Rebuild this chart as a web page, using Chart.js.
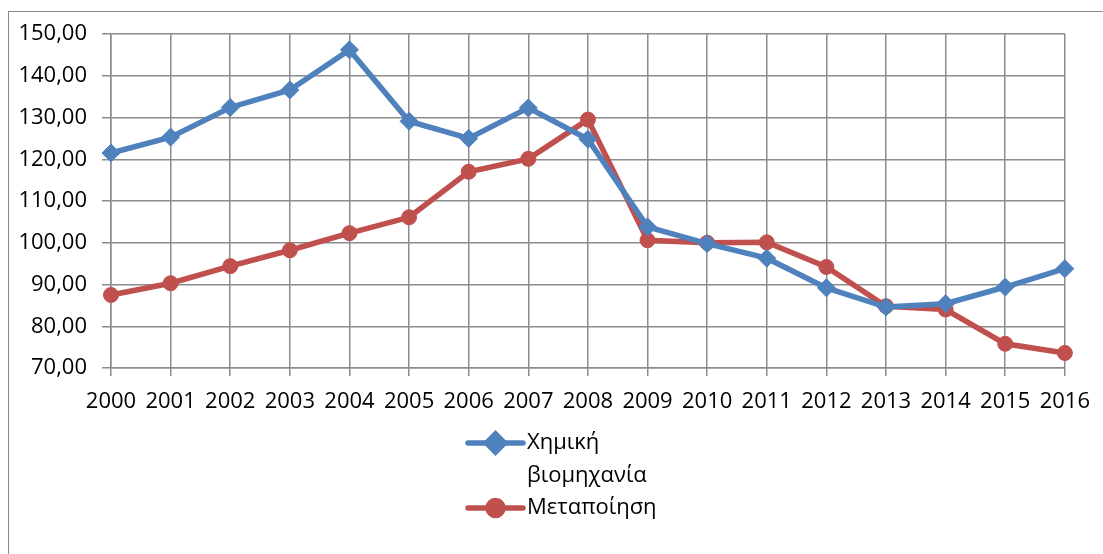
<!DOCTYPE html>
<html>
<head>
<meta charset="utf-8">
<script src="https://cdn.jsdelivr.net/npm/chart.js@4"></script>
<style>
	html, body { margin: 0; padding: 0; background: #fff; }
	#frame { position: absolute; left: 8px; top: 11px; width: 1200px; height: 600px; border: 1.5px solid #8a8a8a; }
	#wrap { position: absolute; left: 0; top: 0; width: 1103px; height: 554px; }
</style>
</head>
<body>
<div id="frame"></div>
<div id="wrap"><canvas id="grafik"></canvas></div>
<script>
var years = ['2000', '2001', '2002', '2003', '2004', '2005', '2006', '2007', '2008',
	'2009', '2010', '2011', '2012', '2013', '2014', '2015', '2016'];
var chimiki = [121.5, 125.3, 132.4, 136.6, 146.2, 129.1, 125.0, 132.3, 124.8,
	103.8, 99.8, 96.3, 89.2, 84.6, 85.4, 89.4, 93.8];
var metapoiisi = [87.5, 90.3, 94.4, 98.2, 102.3, 106.1, 117.0, 120.1, 129.5,
	100.6, 100.0, 100.1, 94.2, 84.8, 84.0, 75.8, 73.6];
var yTicks = { min: 70, max: 150, step: 10 };
var legendNames = [['Χημική', 'βιομηχανία'], ['Μεταποίηση']];

var FONT = '"Open Sans", sans-serif';
var BLUE = '#4f81bd';
var RED = '#c0504d';
var GRID = '#8c8c8c';

// legend drawn by hand, the wrapped label does not fit the built-in one
var handLegend = {
	id: 'handLegend',
	afterDraw: function (chart) {
		var ctx = chart.ctx;
		var x0 = 468, x1 = 523, tx = 527;
		var rows = [443, 508];
		ctx.save();
		chart.data.datasets.forEach(function (ds, i) {
			var y = rows[i];
			ctx.strokeStyle = ds.borderColor;
			ctx.lineWidth = 5.5;
			ctx.lineCap = 'round';
			ctx.beginPath();
			ctx.moveTo(x0, y);
			ctx.lineTo(x1, y);
			ctx.stroke();
			ctx.fillStyle = ds.borderColor;
			Chart.helpers.drawPoint(ctx, {
				pointStyle: ds.pointStyle,
				radius: ds.pointRadius,
				borderWidth: 1
			}, (x0 + x1) / 2, y);
			ctx.fillStyle = '#000';
			ctx.font = '22px ' + FONT;
			ctx.textBaseline = 'middle';
			ctx.textAlign = 'left';
			legendNames[i].forEach(function (line, j) {
				ctx.fillText(line, tx, y + j * 33);
			});
		});
		ctx.restore();
	}
};

var ctx = document.getElementById('grafik');

var lineGraph = new Chart(ctx, {
	type: 'line',
	data: {
		labels: years,
		datasets: [
			{
				label: legendNames[0].join(' '),
				data: chimiki,
				borderColor: BLUE,
				backgroundColor: BLUE,
				borderWidth: 5.5,
				pointStyle: 'rectRot',
				pointRadius: 9,
				pointBorderWidth: 1,
				tension: 0
			},
			{
				label: legendNames[1].join(' '),
				data: metapoiisi,
				borderColor: RED,
				backgroundColor: RED,
				borderWidth: 5.5,
				pointStyle: 'circle',
				pointRadius: 7.5,
				pointBorderWidth: 1,
				tension: 0
			}
		]
	},
	options: {
		responsive: true,
		maintainAspectRatio: false,
		animation: false,
		layout: { padding: { left: 0, top: 34, right: 30, bottom: 0 } },
		plugins: {
			legend: { display: false },
			tooltip: { enabled: false }
		},
		scales: {
			x: {
				offset: false,
				afterFit: function (s) { s.height = 186; },
				grid: { color: GRID, lineWidth: 1.5, tickLength: 8 },
				border: { color: GRID, width: 1.5 },
				ticks: {
					color: '#000',
					font: { family: FONT, size: 22 },
					padding: 13,
					maxRotation: 0,
					autoSkip: false
				}
			},
			y: {
				min: yTicks.min,
				max: yTicks.max,
				afterFit: function (s) { s.width = 111; },
				grid: { color: GRID, lineWidth: 1.5, tickLength: 9 },
				border: { color: GRID, width: 1.5 },
				ticks: {
					stepSize: yTicks.step,
					color: '#000',
					font: { family: FONT, size: 22 },
					padding: 15,
					callback: function (v) { return v.toFixed(2).replace('.', ','); }
				}
			}
		}
	},
	plugins: [handLegend]
});
</script>
</body>
</html>
